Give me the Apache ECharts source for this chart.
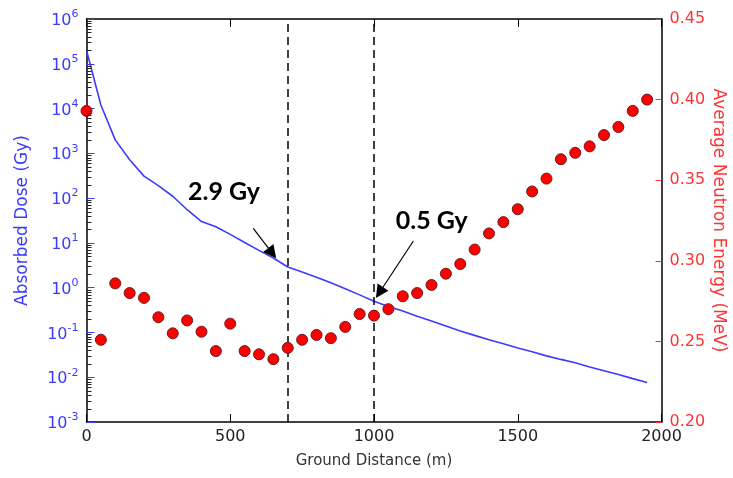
<!DOCTYPE html>
<html>
<head>
<meta charset="utf-8">
<script src="https://cdn.jsdelivr.net/npm/echarts@6/dist/echarts.min.js"></script>
<style>
  html, body { margin: 0; padding: 0; background: #ffffff; }
  #chart { width: 733px; height: 478px; }
</style>
</head>
<body>
<div id="chart"></div>
<script>
// Ground distance from the burst point (m)
const distances = [
  0, 50, 100, 150, 200, 250, 300, 350, 400, 450,
  500, 550, 600, 650, 700, 750, 800, 850, 900, 950,
  1000, 1050, 1100, 1150, 1200, 1250, 1300, 1350, 1400, 1450,
  1500, 1550, 1600, 1650, 1700, 1750, 1800, 1850, 1900, 1950
];

// Absorbed dose (Gy)
const absorbedDose = [
  200000, 12000, 2000, 720, 310, 190, 110, 55, 30, 23,
  15.5, 10.2, 6.8, 4.6, 2.9, 2.25, 1.7, 1.28, 0.95, 0.69,
  0.5, 0.38, 0.3, 0.23, 0.18, 0.14, 0.108, 0.086, 0.069, 0.056,
  0.045, 0.037, 0.03, 0.025, 0.021, 0.017, 0.014, 0.0115, 0.0093, 0.0076
];

// Average neutron energy (MeV)
const neutronEnergy = [
  0.393, 0.251, 0.286, 0.280, 0.277, 0.265, 0.255, 0.263, 0.256, 0.244,
  0.261, 0.244, 0.242, 0.239, 0.246, 0.251, 0.254, 0.252, 0.259, 0.267,
  0.266, 0.270, 0.278, 0.280, 0.285, 0.292, 0.298, 0.307, 0.317, 0.324,
  0.332, 0.343, 0.351, 0.363, 0.367, 0.371, 0.378, 0.383, 0.393, 0.400
];

// Tick values
const distanceTicks = [0, 500, 1000, 1500, 2000];
const doseTicks = [1e-3, 1e-2, 1e-1, 1e0, 1e1, 1e2, 1e3, 1e4, 1e5, 1e6];
const energyTicks = [0.20, 0.25, 0.30, 0.35, 0.40, 0.45];

// Reference distances and their dose callouts
const markerDistances = [700, 1000];
const calloutTexts = ['2.9 Gy', '0.5 Gy'];

// Minor log ticks (2..9 within each decade)
const doseMinorTicks = [];
for (let i = 0; i < doseTicks.length - 1; i++) {
  for (let k = 2; k <= 9; k++) doseMinorTicks.push(doseTicks[i] * k);
}

const FONT = 'DejaVu Sans';
const BLUE = '#3b3bff';
const RED = '#ff3333';

const chart = echarts.init(document.getElementById('chart'), null, { renderer: 'canvas' });

const option = {
  animation: false,
  backgroundColor: '#ffffff',
  grid: { left: 86.5, right: 71.5, top: 19, bottom: 56, containLabel: false, outerBoundsMode: 'none' },
  xAxis: [
    {
      type: 'value', position: 'bottom', min: 0, max: 2000, interval: 500,
      axisLine: { show: true, onZero: false, lineStyle: { color: '#000', width: 1.5 } },
      axisTick: { show: true, inside: true, length: 8, lineStyle: { color: '#000', width: 1 } },
      axisLabel: {
        show: true, margin: 7, color: '#222', fontSize: 16, fontFamily: FONT,
        formatter: function (v) { return String(v); }
      },
      splitLine: { show: false },
      name: 'Ground Distance (m)', nameLocation: 'middle', nameGap: 32, nameMoveOverlap: false,
      nameTextStyle: { color: '#333', fontSize: 15, fontFamily: FONT, verticalAlign: 'top' }
    },
    {
      type: 'value', position: 'top', min: 0, max: 2000, interval: 500,
      axisLine: { show: true, onZero: false, lineStyle: { color: '#000', width: 1.5 } },
      axisTick: { show: true, inside: true, length: 8, lineStyle: { color: '#000', width: 1 } },
      axisLabel: { show: false },
      splitLine: { show: false }
    }
  ],
  yAxis: [
    {
      type: 'log', logBase: 10, position: 'left', min: 1e-3, max: 1e6,
      axisLine: { show: true, onZero: false, lineStyle: { color: '#000', width: 1.5 } },
      axisTick: { show: true, inside: true, length: 8, customValues: doseTicks, lineStyle: { color: BLUE, width: 1 } },
      axisLabel: {
        show: true, margin: 8, customValues: doseTicks,
        formatter: function (v) {
          return '{b|10}{s|' + Math.round(Math.log10(v)) + '}';
        },
        rich: {
          b: { fontSize: 16, fontFamily: FONT, color: BLUE, lineHeight: 20, verticalAlign: 'bottom' },
          s: { fontSize: 11, fontFamily: FONT, color: BLUE, lineHeight: 11, verticalAlign: 'top' }
        }
      },
      splitLine: { show: false },
      minorTick: { show: false },
      name: 'Absorbed Dose (Gy)', nameLocation: 'middle', nameGap: 55, nameRotate: 90, nameMoveOverlap: false,
      nameTextStyle: { color: BLUE, fontSize: 17, fontFamily: FONT }
    },
    {
      type: 'value', position: 'right', min: 0.2, max: 0.45, interval: 0.05,
      axisLine: { show: true, onZero: false, lineStyle: { color: '#000', width: 1.5 } },
      axisTick: { show: true, inside: true, length: 6, lineStyle: { color: RED, width: 1 } },
      axisLabel: {
        show: true, margin: 8, color: RED, fontSize: 16, fontFamily: FONT,
        formatter: function (v) { return v.toFixed(2); }
      },
      splitLine: { show: false },
      name: 'Average Neutron Energy (MeV)', nameLocation: 'middle', nameGap: 48, nameRotate: -90, nameMoveOverlap: false,
      nameTextStyle: { color: RED, fontSize: 17, fontFamily: FONT }
    }
  ],
  series: [
    {
      // minor ticks along the inside of the dose axis
      name: 'Dose minor ticks',
      type: 'custom',
      coordinateSystem: 'cartesian2d',
      xAxisIndex: 0, yAxisIndex: 0,
      silent: true,
      clip: false,
      z: 10,
      data: doseMinorTicks.map(v => [0, v]),
      renderItem: function (params, api) {
        const p = api.coord([0, api.value(1)]);
        const y = Math.round(p[1]) + 0.5;
        return {
          type: 'line',
          shape: { x1: p[0], y1: y, x2: p[0] + 5, y2: y },
          style: { stroke: '#222', lineWidth: 1 }
        };
      }
    },
    {
      name: 'Absorbed Dose',
      type: 'line',
      xAxisIndex: 0, yAxisIndex: 0,
      data: distances.map((d, i) => [d, absorbedDose[i]]),
      showSymbol: false,
      symbol: 'none',
      lineStyle: { color: BLUE, width: 1.6 },
      z: 2,
      markLine: {
        silent: true,
        symbol: 'none',
        label: { show: false },
        lineStyle: { color: '#000', width: 1.5, type: [8, 5] },
        data: markerDistances.map(d => ({ xAxis: d }))
      },
      markPoint: {
        silent: true,
        symbol: 'circle',
        symbolSize: 1,
        itemStyle: { color: 'rgba(0,0,0,0)' },
        label: {
          show: true, position: 'inside', color: '#000', fontSize: 25,
          fontWeight: 'bold', fontFamily: 'Lato'
        },
        data: [
          { coord: [478, 137], label: { formatter: calloutTexts[0] } },
          { coord: [1201, 30.8], label: { formatter: calloutTexts[1] } }
        ]
      }
    },
    {
      // callout arrows
      name: 'Callouts',
      type: 'line',
      xAxisIndex: 0, yAxisIndex: 0,
      data: [],
      z: 3,
      markLine: {
        silent: true,
        symbol: ['none', 'triangle'],
        symbolSize: 13,
        label: { show: false },
        lineStyle: { color: '#000', width: 1.2, type: 'solid' },
        itemStyle: { color: '#000' },
        data: [
          [{ coord: [580, 21.2] }, { coord: [646, 5.9] }],
          [{ coord: [1137, 11.0] }, { coord: [1019, 0.78] }]
        ]
      }
    },
    {
      name: 'Average Neutron Energy',
      type: 'scatter',
      xAxisIndex: 0, yAxisIndex: 1,
      data: distances.map((d, i) => [d, neutronEnergy[i]]),
      symbol: 'circle',
      symbolSize: 11,
      itemStyle: { color: '#ff0000', borderColor: '#6a1c1c', borderWidth: 1, opacity: 1 },
      clip: true,
      z: 5
    }
  ]
};

chart.setOption(option);
</script>
</body>
</html>
